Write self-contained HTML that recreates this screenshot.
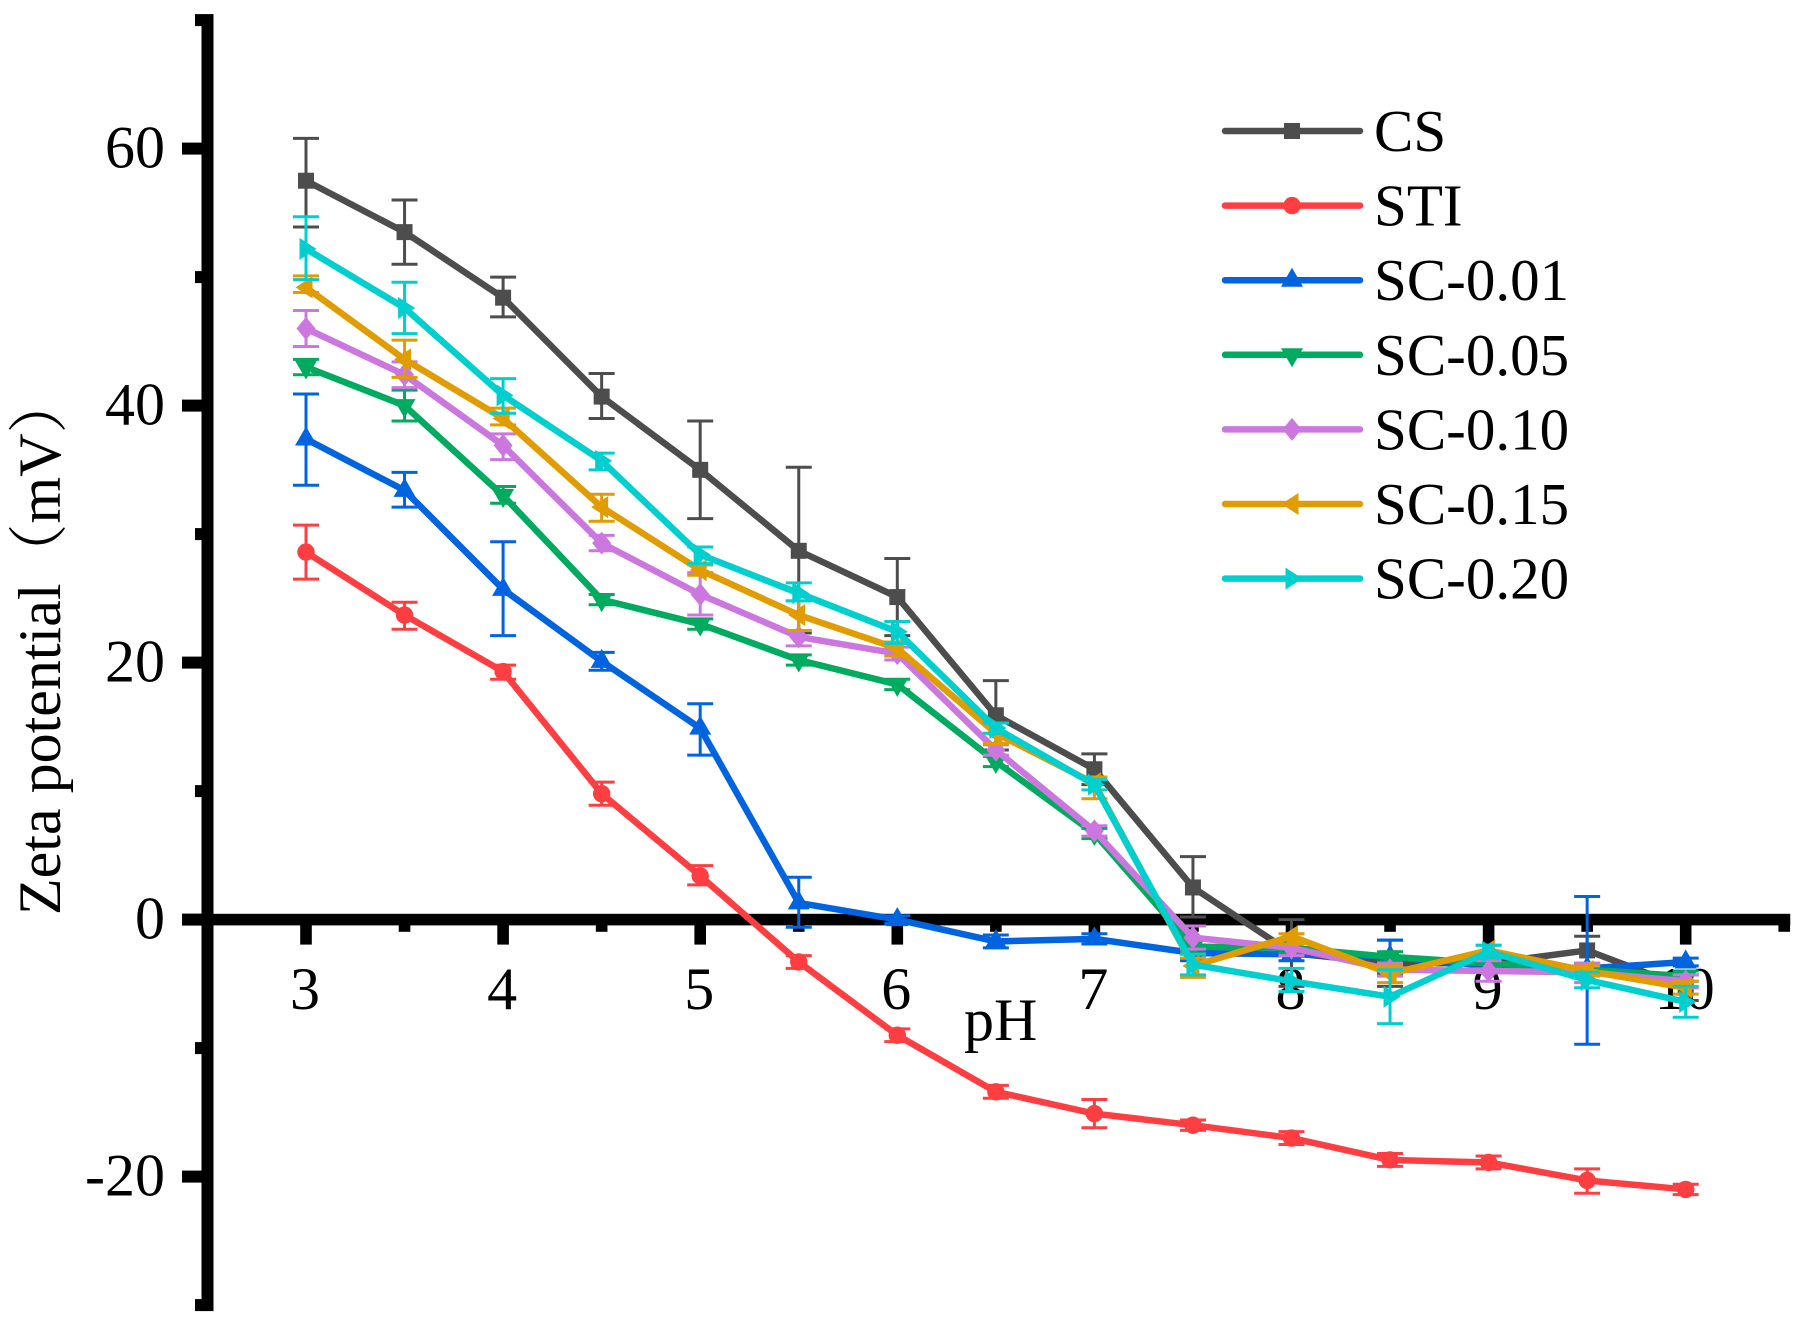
<!DOCTYPE html>
<html lang="en">
<head>
<meta charset="utf-8">
<title>Zeta potential vs pH</title>
<style>
html,body{margin:0;padding:0;background:#fff;}
svg{display:block;}
text{font-family:"Liberation Serif","Noto Serif CJK SC",serif;fill:#000;}
</style>
</head>
<body>
<svg id="chart" xmlns="http://www.w3.org/2000/svg" width="1805" height="1330" viewBox="0 0 1805 1330">
<rect x="0" y="0" width="1805" height="1330" fill="#ffffff"/>
<text transform="translate(60 915) rotate(-90)" font-size="60">Zeta potential（mV）</text>
<text x="964" y="1040" font-size="60">pH</text>
</svg>
<script>
const phValues = [3,3.5,4,4.5,5,5.5,6,6.5,7,7.5,8,8.5,9,9.5,10];
const xMajorTicks = [3,4,5,6,7,8,9,10];
const xMinorTicks = [3.5,4.5,5.5,6.5,7.5,8.5,9.5,10.5];
const yMajorTicks = [60,40,20,0,-20];
const yMinorTicks = [70,50,30,10,-10,-30];

const csValues = [57.5,53.5,48.4,40.7,35,28.7,25.1,15.9,11.7,2.5,-2.6,-3.4,-3.4,-2.4,-5.3];
const csUpper  = [60.8,56,50,42.5,38.8,35.2,28.1,18.6,12.9,4.9,0,-1.6,-3,-1.3,-4.3];
const csLower  = [53.9,51,46.9,39,31.2,22.3,22.1,13.2,10.5,0.2,-5.2,-5.2,-3.8,-3.4,-6.3];

const stiValues = [28.6,23.7,19.3,9.8,3.4,-3.3,-9,-13.4,-15.1,-16,-17,-18.7,-18.9,-20.3,-21];
const stiUpper  = [30.7,24.7,19.8,10.7,4.2,-2.8,-8.5,-12.9,-14,-15.6,-16.5,-18.2,-18.4,-19.4,-20.6];
const stiLower  = [26.5,22.6,18.7,8.9,2.7,-3.8,-9.5,-13.9,-16.2,-16.4,-17.5,-19.2,-19.4,-21.3,-21.4];

const sc001Values = [37.4,33.4,25.7,20.1,14.9,1.3,0,-1.7,-1.5,-2.6,-2.7,-2.9,-3.6,-3.8,-3.3];
const sc001Upper  = [40.9,34.8,29.4,20.8,16.8,3.3,0.3,-1.2,-1.1,-2,-2.2,-1.6,-3.1,1.8,-3];
const sc001Lower  = [33.8,32.1,22.1,19.4,12.8,-0.6,-0.3,-2.2,-1.9,-3.2,-3.2,-4.2,-4.1,-9.7,-3.6];

const sc005Values = [43,40,33,24.9,23,20.2,18.3,12.3,6.7,-2.1,-2.2,-2.9,-3.4,-3.9,-4.4];
const sc005Upper  = [43.6,41.2,33.7,25.3,23.4,20.6,18.7,12.7,7.1,-1.6,-1.8,-2.5,-3,-3.5,-4];
const sc005Lower  = [42.4,38.8,32.4,24.5,22.6,19.8,17.9,11.9,6.3,-2.6,-2.6,-3.3,-3.8,-4.3,-4.8];

const sc010Values = [46,42.4,36.9,29.3,25.3,22,20.7,13.2,6.9,-1.4,-2.2,-3.9,-4,-4.1,-4.8];
const sc010Upper  = [47.4,43.4,37.8,29.9,27,22.5,21.2,13.6,7.3,-0.5,-1.6,-3.4,-3.2,-3.4,-4.3];
const sc010Lower  = [44.6,41.4,35.8,28.7,23.7,21.3,20.2,12.8,6.5,-2.3,-2.8,-4.4,-4.8,-4.9,-5.3];

const sc015Values = [49.2,43.6,39,32.1,27.2,23.7,21.1,14.5,10.6,-3.6,-1.3,-4.2,-2.4,-4,-5.3];
const sc015Upper  = [50.1,45.1,39.8,33.1,27.6,24.8,21.6,15.3,11.1,-3,-1.1,-3.6,-2,-3.6,-4.8];
const sc015Lower  = [48.8,42.2,38.5,31,26.8,22.5,20.5,13.7,9.4,-4.5,-1.9,-4.9,-2.8,-4.4,-5.8];

const sc020Values = [52.2,47.6,40.8,35.7,28.4,25.4,22.4,14.9,10.5,-3.5,-4.8,-6,-2.5,-4.7,-6.4];
const sc020Upper  = [54.7,49.6,42.1,36.3,29,26.2,23.2,15.3,10.9,-2.7,-3.8,-3.9,-2,-4.1,-5.2];
const sc020Lower  = [49.8,45.6,39.4,35,27.7,24.8,21.5,14.5,10.1,-4.3,-5.6,-8.1,-3,-5.3,-7.6];

const seriesNames = ['CS','STI','SC-0.01','SC-0.05','SC-0.10','SC-0.15','SC-0.20'];
const seriesValues = [csValues,stiValues,sc001Values,sc005Values,sc010Values,sc015Values,sc020Values];
const seriesUpper = [csUpper,stiUpper,sc001Upper,sc005Upper,sc010Upper,sc015Upper,sc020Upper];
const seriesLower = [csLower,stiLower,sc001Lower,sc005Lower,sc010Lower,sc015Lower,sc020Lower];

const colors = ['#4d4d4d','#ff3e42','#0064e1','#00ab5f','#cc77e0','#e09c00','#00cfd0'];
const shapes = ['square','circle','up','down','diamond','left','right'];

const svg = document.getElementById('chart');
const NS = 'http://www.w3.org/2000/svg';
const xScale = v => 306 + (v - 3) * 197.1;
const yScale = v => 919.6 - v * 12.85;

function make(tag, attrs, parent) {
  const n = document.createElementNS(NS, tag);
  for (const k in attrs) n.setAttribute(k, attrs[k]);
  parent.appendChild(n);
  return n;
}

function marker(shape, x, y, color, parent) {
  let n;
  if (shape === 'square') {
    n = make('rect', {x: x - 8, y: y - 8, width: 16, height: 16, fill: color}, parent);
  } else if (shape === 'circle') {
    n = make('circle', {cx: x, cy: y, r: 8.7, fill: color}, parent);
  } else {
    let pts;
    if (shape === 'up') pts = [[x, y - 12.5], [x + 11, y + 6.5], [x - 11, y + 6.5]];
    if (shape === 'down') pts = [[x, y + 12.5], [x + 11, y - 6.5], [x - 11, y - 6.5]];
    if (shape === 'diamond') pts = [[x, y - 11.5], [x + 9.5, y], [x, y + 11.5], [x - 9.5, y]];
    if (shape === 'left') pts = [[x - 10.5, y], [x + 6.5, y - 11], [x + 6.5, y + 11]];
    if (shape === 'right') pts = [[x + 10.5, y], [x - 6.5, y - 11], [x - 6.5, y + 11]];
    n = make('polygon', {points: pts.map(p => p.join(',')).join(' '), fill: color}, parent);
  }
  return n;
}

// axes
const axes = make('g', {}, svg);



const yAxisLine = make('rect', {x: 201.5, y: yScale(70) - 6, width: 12, height: yScale(-30) - yScale(70) + 12, fill: '#000'}, axes);



const xAxisLine = make('rect', {x: 201.5, y: yScale(0) - 5.8, width: xScale(10.5) + 6 - 201.5, height: 11.6, fill: '#000'}, axes);



yMajorTicks.forEach(v => {
  const t = make('rect', {x: 182, y: yScale(v) - 6, width: 20, height: 12, fill: '#000'}, axes);
  
  
  const l = make('text', {x: 165, y: yScale(v) + 19, 'font-size': 60, 'text-anchor': 'end'}, axes);
  l.textContent = String(v);
  
  
});
yMinorTicks.forEach(v => {
  const t = make('rect', {x: 195, y: yScale(v) - 6, width: 7, height: 12, fill: '#000'}, axes);
  
  
});
xMajorTicks.forEach(v => {
  const t = make('rect', {x: xScale(v) - 5.8, y: yScale(0), width: 11.6, height: 25, fill: '#000'}, axes);
  
  
  const l = make('text', {x: xScale(v) - 1, y: 1009, 'font-size': 60, 'text-anchor': 'middle'}, axes);
  l.textContent = String(v);
  
  
});
xMinorTicks.forEach(v => {
  const t = make('rect', {x: xScale(v) - 5.8, y: yScale(0), width: 11.6, height: 12.2, fill: '#000'}, axes);
  
  
});

// series
seriesNames.forEach((name, i) => {
  const key = name.toLowerCase().replace('.', '');
  const g = make('g', {}, svg);
  
  

  phValues.forEach((ph, j) => {
    const x = xScale(ph);
    const top = yScale(seriesUpper[i][j]);
    const bot = yScale(seriesLower[i][j]);
    const eb = make('path', {
      d: 'M' + (x - 13) + ' ' + top + 'H' + (x + 13) + 'M' + x + ' ' + top + 'V' + bot + 'M' + (x - 13) + ' ' + bot + 'H' + (x + 13),
      fill: 'none', stroke: colors[i], 'stroke-width': 3
    }, g);
    
    
  });

  const line = make('polyline', {
    points: phValues.map((ph, j) => xScale(ph) + ',' + yScale(seriesValues[i][j])).join(' '),
    fill: 'none', stroke: colors[i], 'stroke-width': 6.5, 'stroke-linejoin': 'round'
  }, g);
  
  

  phValues.forEach((ph, j) => {
    const m = marker(shapes[i], xScale(ph), yScale(seriesValues[i][j]), colors[i], g);
    
    
  });
});

// legend
const legend = make('g', {}, svg);


seriesNames.forEach((name, i) => {
  const y = 131 + i * 74.6;
  const entry = make('g', {}, legend);
  
  
  const s = make('line', {x1: 1225, y1: y, x2: 1360, y2: y, stroke: colors[i], 'stroke-width': 6.5, 'stroke-linecap': 'round'}, entry);
  
  
  const m = marker(shapes[i], 1292, y, colors[i], entry);
  
  
  const t = make('text', {x: 1374, y: y + 20, 'font-size': 59}, entry);
  t.textContent = name;
  
  
});
</script>
</body>
</html>
